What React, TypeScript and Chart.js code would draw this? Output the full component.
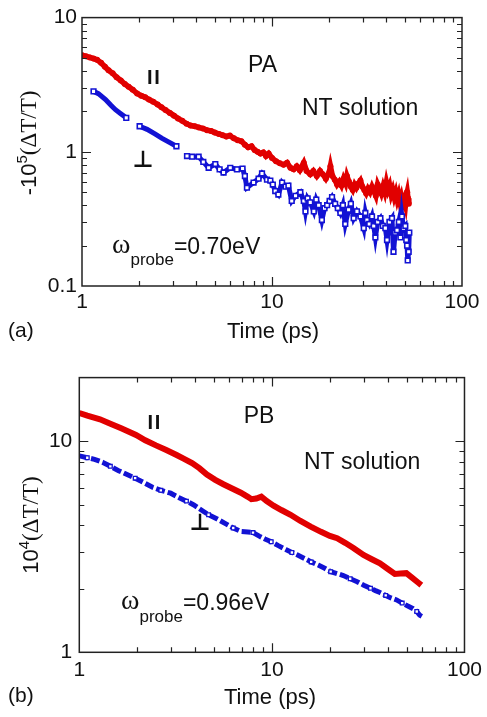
import React, { useEffect, useRef } from 'react';
import { Chart, registerables } from 'chart.js';

Chart.register(...registerables);

// ---------- tick values ----------
const X_MAJOR = [1, 10, 100];
const Y_MAJOR_A = [0.1, 1, 10];
const Y_MAJOR_B = [1, 10];
const MINOR_STEPS = [2, 3, 4, 5, 6, 7, 8, 9];

// ---------- panel (a): PA, probe 0.70 eV ----------
const timeA_par = [
  1.0, 1.05, 1.1, 1.15, 1.2, 1.26, 1.32, 1.38, 1.45, 1.52, 1.6, 1.68, 1.76, 1.85, 1.95,
  2.05, 2.15, 2.25, 2.37, 2.5, 2.62, 2.75, 2.9, 3.05, 3.2, 3.37, 3.55, 3.73, 3.92, 4.12,
  4.33, 4.55, 4.78, 5.0, 5.25, 5.5, 5.75, 6.0, 6.3, 6.6, 6.9, 7.2, 7.5, 7.8, 8.1,
  8.4, 8.7, 9.0, 9.3, 9.6, 10.0, 10.5, 11.0, 11.5, 12.0, 12.5, 13.0, 13.5, 14.0, 14.7,
  15.2, 15.9, 16.5, 17.2, 17.9, 18.5, 19.2, 20.0, 20.3, 20.8, 21.4, 22.0, 22.6, 23.2, 23.8,
  24.4, 24.8, 25.4, 26.0, 26.6, 27.2, 27.8, 28.5, 29.2, 29.9, 30.6, 31.3, 32.0, 32.8, 33.6,
  34.4, 35.2, 36.0, 36.8, 37.6, 38.4, 39.2, 40.0, 40.8, 41.6, 42.4, 43.2, 44.0, 44.8, 45.6,
  46.4, 47.2, 48.0, 48.8, 49.6, 50.4, 51.0, 51.5, 52.0, 52.5,
];
const signalA_par = [
  5.25, 5.15, 5.05, 4.95, 4.85, 4.6, 4.3, 4.05, 3.85, 3.6, 3.4, 3.2, 3.05, 2.9, 2.72,
  2.62, 2.55, 2.45, 2.36, 2.25, 2.15, 2.05, 1.95, 1.86, 1.77, 1.7, 1.62, 1.57, 1.55, 1.52,
  1.49, 1.45, 1.43, 1.39, 1.36, 1.33, 1.3, 1.32, 1.26, 1.22, 1.2, 1.13, 1.08, 1.1, 1.03,
  1.0, 0.97, 0.99, 0.93, 0.97, 0.9, 0.85, 0.82, 0.8, 0.83, 0.76, 0.74, 0.78, 0.73, 0.83,
  0.72, 0.68, 0.72, 0.66, 0.72, 0.68, 0.63, 0.7, 0.78, 0.66, 0.62, 0.57, 0.6, 0.56, 0.63,
  0.58, 0.66, 0.6, 0.55, 0.52, 0.57, 0.54, 0.58, 0.61, 0.55, 0.52, 0.49, 0.53, 0.5, 0.55,
  0.51, 0.47, 0.57, 0.53, 0.49, 0.55, 0.5, 0.59, 0.52, 0.56, 0.48, 0.52, 0.46, 0.5, 0.44,
  0.48, 0.42, 0.46, 0.41, 0.44, 0.4, 0.47, 0.5, 0.45, 0.41,
];
const timeA_perp = [
  1.15, 1.22, 1.33, 1.42, 1.5, 1.6, 1.71, 1.86,
  2.01, 2.2, 2.42, 2.64, 2.9, 3.14, 3.35,
  3.57, 3.8, 4.11, 4.35, 4.64, 5.03, 5.3, 5.56, 6.03, 6.54, 7.0, 7.2, 7.38, 8.0, 8.5,
  8.86, 9.41, 9.8, 10.1, 10.4, 10.8, 11.3, 11.8, 12.2, 12.7, 13.3, 14.1, 14.7, 15.0, 15.4,
  15.9, 16.6, 17.1, 17.6, 18.3, 18.9, 19.5, 20.1, 20.7, 21.5, 22.2, 22.9, 23.6, 24.3, 25.3,
  26.0, 26.9, 28.0, 29.2, 30.4, 31.0, 31.6, 32.5, 33.6, 34.3, 35.0, 36.0, 37.2, 38.3, 39.5,
  40.3, 41.5, 42.8, 43.6, 44.5, 45.5, 46.5, 47.4, 48.3, 49.2, 50.3, 50.9, 51.4, 51.8, 52.4,
  52.8,
];
const signalA_perp = [
  2.82, 2.71, 2.45, 2.22, 2.06, 1.92, 1.79, null,
  1.55, 1.47, 1.36, 1.26, 1.17, 1.1, null,
  0.93, 0.92, 0.92, 0.84, 0.76, 0.81, 0.74, 0.7, 0.76, 0.74, 0.75, 0.66, 0.54, 0.59, 0.63,
  0.69, 0.62, 0.61, 0.57, 0.51, 0.48, 0.59, 0.55, 0.56, 0.43, 0.47, 0.5, 0.43, 0.36, 0.45,
  0.42, 0.36, 0.44, 0.4, 0.31, 0.38, 0.4, 0.43, 0.46, 0.41, 0.38, 0.35, 0.4, 0.29, 0.37,
  0.41, 0.32, 0.36, 0.33, 0.27, 0.35, 0.31, 0.29, 0.33, 0.28, 0.23, 0.3, 0.32, 0.28, 0.27,
  0.22, 0.3, 0.32, 0.18, 0.25, 0.26, 0.3, 0.23, 0.33, 0.27, 0.28, 0.22, 0.2, 0.155, 0.18,
  0.25,
];

// ---------- panel (b): PB, probe 0.96 eV ----------
const timeB_par = [
  1.0, 1.1, 1.28, 1.45, 1.65, 1.97, 2.2, 2.5, 2.81, 3.2, 3.5, 3.85, 4.2, 4.6, 5.08,
  5.6, 6.18, 6.9, 7.5, 7.83, 8.3, 8.81, 9.4, 10.2, 11.2, 12.5, 14.0, 15.9, 18.0, 20.0,
  21.8, 24.0, 26.5, 29.9, 33.0, 36.4, 40.0, 43.5, 46.5, 49.9, 53.0, 57.4, 59.7,
];
const signalB_par = [
  13.6, 13.2, 12.7, 12.1, 11.5, 10.7, 10.1, 9.55, 9.1, 8.6, 8.25, 7.87, 7.45, 6.95, 6.56,
  6.25, 5.98, 5.7, 5.45, 5.31, 5.35, 5.46, 5.2, 4.95, 4.72, 4.48, 4.2, 3.94, 3.72, 3.56,
  3.47, 3.3, 3.12, 2.89, 2.76, 2.64, 2.48, 2.35, 2.36, 2.37, 2.27, 2.14, 2.08,
];
const timeB_perp = [
  1.0, 1.1, 1.2, 1.32, 1.45, 1.6, 1.77, 1.95, 2.15, 2.4, 2.65, 2.98, 3.3, 3.6, 3.93,
  4.3, 4.69, 5.2, 5.71, 6.3, 6.95, 7.5, 7.98, 8.6, 9.2, 9.92, 10.8, 11.8, 12.7, 13.6,
  14.8, 16.0, 17.4, 18.8, 20.2, 21.8, 23.5, 25.5, 27.7, 30.0, 32.5, 34.5, 36.4, 39.0, 41.5,
  44.4, 47.5, 50.5, 54.1, 56.5, 58.5, 60.0,
];
const signalB_perp = [
  8.52, 8.35, 8.2, 7.95, 7.6, 7.25, 6.95, 6.68, 6.38, 6.05, 5.85, 5.67, 5.4, 5.2, 4.99,
  4.72, 4.48, 4.28, 4.08, 3.88, 3.73, 3.71, 3.69, 3.55, 3.44, 3.34, 3.2, 3.07, 2.97, 2.89,
  2.78, 2.68, 2.59, 2.5, 2.41, 2.36, 2.31, 2.23, 2.16, 2.08, 2.01, 1.96, 1.92, 1.86, 1.81,
  1.77, 1.71, 1.66, 1.61, 1.56, 1.5, 1.48,
];

// ---------- styling ----------
const SANS = "'Liberation Sans', Arial, Helvetica, sans-serif";
const SERIF = "'Liberation Serif', 'Times New Roman', serif";
const RED = '#e10000';
const BLUE = '#1212d4';
const INK = '#111';

const pts = (xs: number[], ys: (number | null)[]) => xs.map((x, i) => ({ x, y: ys[i] }));

function text(ctx: CanvasRenderingContext2D, s: string, x: number, y: number, font: string, align: CanvasTextAlign = 'left') {
  ctx.save();
  ctx.font = font;
  ctx.fillStyle = INK;
  ctx.textAlign = align;
  ctx.textBaseline = 'alphabetic';
  ctx.fillText(s, x, y);
  ctx.restore();
}

// "parallel" sign: two spaced capital I's
function parallelSign(ctx: CanvasRenderingContext2D, cx: number, base: number) {
  ctx.save();
  ctx.font = `bold 20px ${SANS}`;
  ctx.fillStyle = INK;
  ctx.textAlign = 'center';
  ctx.textBaseline = 'alphabetic';
  ctx.fillText('I', cx - 3.6, base);
  ctx.fillText('I', cx + 3.6, base);
  ctx.restore();
}

type Part = { t: string; font: string; dy: number };
function rotatedTitle(ctx: CanvasRenderingContext2D, parts: Part[], bx: number, cy: number) {
  ctx.save();
  ctx.translate(bx, cy);
  ctx.rotate(-Math.PI / 2);
  ctx.fillStyle = INK;
  ctx.textBaseline = 'alphabetic';
  let total = 0;
  const widths = parts.map((p) => {
    ctx.font = p.font;
    const w = ctx.measureText(p.t).width;
    total += w;
    return w;
  });
  let u = -total / 2;
  parts.forEach((p, i) => {
    ctx.font = p.font;
    ctx.fillText(p.t, u, p.dy);
    u += widths[i];
  });
  ctx.restore();
}

function probeLabel(ctx: CanvasRenderingContext2D, x: number, base: number, subBase: number, value: string) {
  ctx.save();
  ctx.fillStyle = INK;
  ctx.textBaseline = 'alphabetic';
  ctx.font = `28px ${SERIF}`;
  ctx.fillText('ω', x, base);
  const w1 = ctx.measureText('ω').width;
  ctx.font = `17px ${SANS}`;
  ctx.fillText('probe', x + w1, subBase);
  const w2 = ctx.measureText('probe').width;
  ctx.font = `23px ${SANS}`;
  ctx.fillText(value, x + w1 + w2, base + 1);
  ctx.restore();
}

function makeDecor(yMajor: number[], draw: (ctx: CanvasRenderingContext2D) => void) {
  return {
    id: 'decor',
    afterDatasetsDraw(chart: any) {
      const { ctx, chartArea: a, scales } = chart;
      const xs = scales.x;
      const ys = scales.y;
      ctx.save();
      ctx.strokeStyle = '#222';
      ctx.lineWidth = 1.2;
      const tick = (v: number, len: number, isX: boolean) => {
        ctx.beginPath();
        if (isX) {
          const p = Math.round(xs.getPixelForValue(v)) + 0.5;
          ctx.moveTo(p, a.bottom); ctx.lineTo(p, a.bottom - len);
          ctx.moveTo(p, a.top); ctx.lineTo(p, a.top + len);
        } else {
          const p = Math.round(ys.getPixelForValue(v)) + 0.5;
          ctx.moveTo(a.left, p); ctx.lineTo(a.left + len, p);
          ctx.moveTo(a.right, p); ctx.lineTo(a.right - len, p);
        }
        ctx.stroke();
      };
      const both = (major: number[], isX: boolean, min: number, max: number) => {
        major.forEach((d) => {
          if (d > min && d < max) tick(d, 9, isX);
          MINOR_STEPS.forEach((m) => {
            const v = d * m;
            if (v > min && v < max) tick(v, 5, isX);
          });
        });
      };
      both(X_MAJOR, true, xs.min, xs.max);
      both(yMajor, false, ys.min, ys.max);
      ctx.lineWidth = 1.5;
      ctx.strokeRect(a.left, a.top, a.right - a.left, a.bottom - a.top);
      ctx.restore();
    },
    afterDraw(chart: any) {
      draw(chart.ctx);
    },
  };
}

function makeConfig(o: {
  datasets: any[];
  yMin: number; yMax: number; yMajor: number[];
  padding: any; yWidth: number; xHeight: number; xTickPad: number; yTickPad: number;
  draw: (ctx: CanvasRenderingContext2D) => void;
}) {
  const tickFont = { family: SANS, size: 21 };
  return {
    type: 'scatter',
    data: { datasets: o.datasets },
    options: {
      responsive: false,
      animation: false,
      devicePixelRatio: 1,
      layout: { padding: o.padding },
      plugins: { legend: { display: false }, tooltip: { enabled: false } },
      scales: {
        x: {
          type: 'logarithmic', min: 1, max: 100,
          grid: { display: false, drawTicks: false }, border: { display: false },
          ticks: { font: tickFont, color: INK, padding: o.xTickPad, autoSkip: false, maxRotation: 0, callback: (v: any) => String(v) },
          afterBuildTicks: (s: any) => { s.ticks = X_MAJOR.map((value) => ({ value })); },
          afterFit: (s: any) => { s.height = o.xHeight; },
        },
        y: {
          type: 'logarithmic', min: o.yMin, max: o.yMax,
          grid: { display: false, drawTicks: false }, border: { display: false },
          ticks: { font: tickFont, color: INK, padding: o.yTickPad, autoSkip: false, callback: (v: any) => String(v) },
          afterBuildTicks: (s: any) => { s.ticks = o.yMajor.map((value) => ({ value })); },
          afterFit: (s: any) => { s.width = o.yWidth; },
        },
      },
    },
    plugins: [makeDecor(o.yMajor, o.draw)],
  };
}

// squares on the early perpendicular segments only where a segment starts or ends
const segmentEndRadius = (r: number, fromX: number) => (c: any) => {
  const d = c.dataset.data;
  const i = c.dataIndex;
  const p = d[i];
  if (!p || p.y === null) return 0;
  if (p.x >= fromX) return r;
  const prev = d[i - 1];
  const next = d[i + 1];
  if (!prev || prev.y === null || !next || next.y === null) return r;
  return 0;
};

const configA = () =>
  makeConfig({
    datasets: [
      {
        data: pts(timeA_perp, signalA_perp), showLine: true, spanGaps: false,
        borderColor: BLUE, borderWidth: 5, pointStyle: 'rect', pointRadius: segmentEndRadius(3.3, 3.4),
        pointBackgroundColor: '#ffffff', pointBorderColor: BLUE, pointBorderWidth: 1.6,
      },
      {
        data: pts(timeA_par, signalA_par), showLine: true,
        borderColor: RED, borderWidth: 5.5, pointStyle: 'circle', pointRadius: 3,
        pointBackgroundColor: RED, pointBorderWidth: 0,
      },
    ],
    yMin: 0.1, yMax: 10, yMajor: Y_MAJOR_A,
    padding: { left: 0, top: 16, right: 25, bottom: 0 },
    yWidth: 82, xHeight: 72, xTickPad: 4, yTickPad: 5,
    draw: (ctx) => {
      text(ctx, 'PA', 262.5, 71.5, `23px ${SANS}`, 'center');
      text(ctx, 'NT solution', 302, 115, `23px ${SANS}`);
      parallelSign(ctx, 153.5, 83.5);
      text(ctx, '⊥', 143, 167, `bold 23px 'DejaVu Sans', sans-serif`, 'center');
      probeLabel(ctx, 112, 253, 265, '=0.70eV');
      text(ctx, 'Time (ps)', 273, 338, `22px ${SANS}`, 'center');
      text(ctx, '(a)', 8, 337, `21px ${SANS}`);
      rotatedTitle(ctx, [
        { t: '-10', font: `22px ${SANS}`, dy: 0 },
        { t: '5', font: `15px ${SANS}`, dy: -9 },
        { t: '(ΔT/T)', font: `23px ${SERIF}`, dy: 0 },
      ], 36, 143);
    },
  });

const configB = () =>
  makeConfig({
    datasets: [
      {
        data: pts(timeB_perp, signalB_perp), showLine: true,
        borderColor: BLUE, borderWidth: 5, borderDash: [9, 3], pointStyle: 'rect',
        pointRadius: (c: any) => (c.dataIndex % 3 === 1 ? 2.6 : 0),
        pointBackgroundColor: '#ffffff', pointBorderColor: BLUE, pointBorderWidth: 1.3,
      },
      {
        data: pts(timeB_par, signalB_par), showLine: true,
        borderColor: RED, borderWidth: 6, pointRadius: 0,
      },
    ],
    yMin: 1, yMax: 20, yMajor: Y_MAJOR_B,
    padding: { left: 0, top: 19, right: 18.5, bottom: 0 },
    yWidth: 79.3, xHeight: 64.7, xTickPad: 5, yTickPad: 7,
    draw: (ctx) => {
      text(ctx, 'PB', 259, 64.5, `23px ${SANS}`, 'center');
      text(ctx, 'NT solution', 304, 111, `23px ${SANS}`);
      parallelSign(ctx, 154, 71);
      text(ctx, '⊥', 200, 172, `bold 23px 'DejaVu Sans', sans-serif`, 'center');
      probeLabel(ctx, 121, 251, 264, '=0.96eV');
      text(ctx, 'Time (ps)', 270, 346, `22px ${SANS}`, 'center');
      text(ctx, '(b)', 8, 344, `21px ${SANS}`);
      rotatedTitle(ctx, [
        { t: '10', font: `22px ${SANS}`, dy: 0 },
        { t: '4', font: `15px ${SANS}`, dy: -9 },
        { t: '(ΔT/T)', font: `23px ${SERIF}`, dy: 0 },
      ], 38, 167);
    },
  });

function Panel({ top, height, build }: { top: number; height: number; build: () => any }) {
  const ref = useRef<HTMLCanvasElement>(null);
  useEffect(() => {
    const chart = new Chart(ref.current as HTMLCanvasElement, build());
    return () => chart.destroy();
  }, [build]);
  return (
    <canvas
      ref={ref}
      width={487}
      height={height}
      style={{ position: 'absolute', left: 0, top, width: 487, height, display: 'block' }}
    />
  );
}

export default function App() {
  return (
    <div style={{ position: 'fixed', left: 0, top: 0, width: 487, height: 717, background: '#ffffff' }}>
      <Panel top={0} height={358} build={configA} />
      <Panel top={358} height={359} build={configB} />
    </div>
  );
}
